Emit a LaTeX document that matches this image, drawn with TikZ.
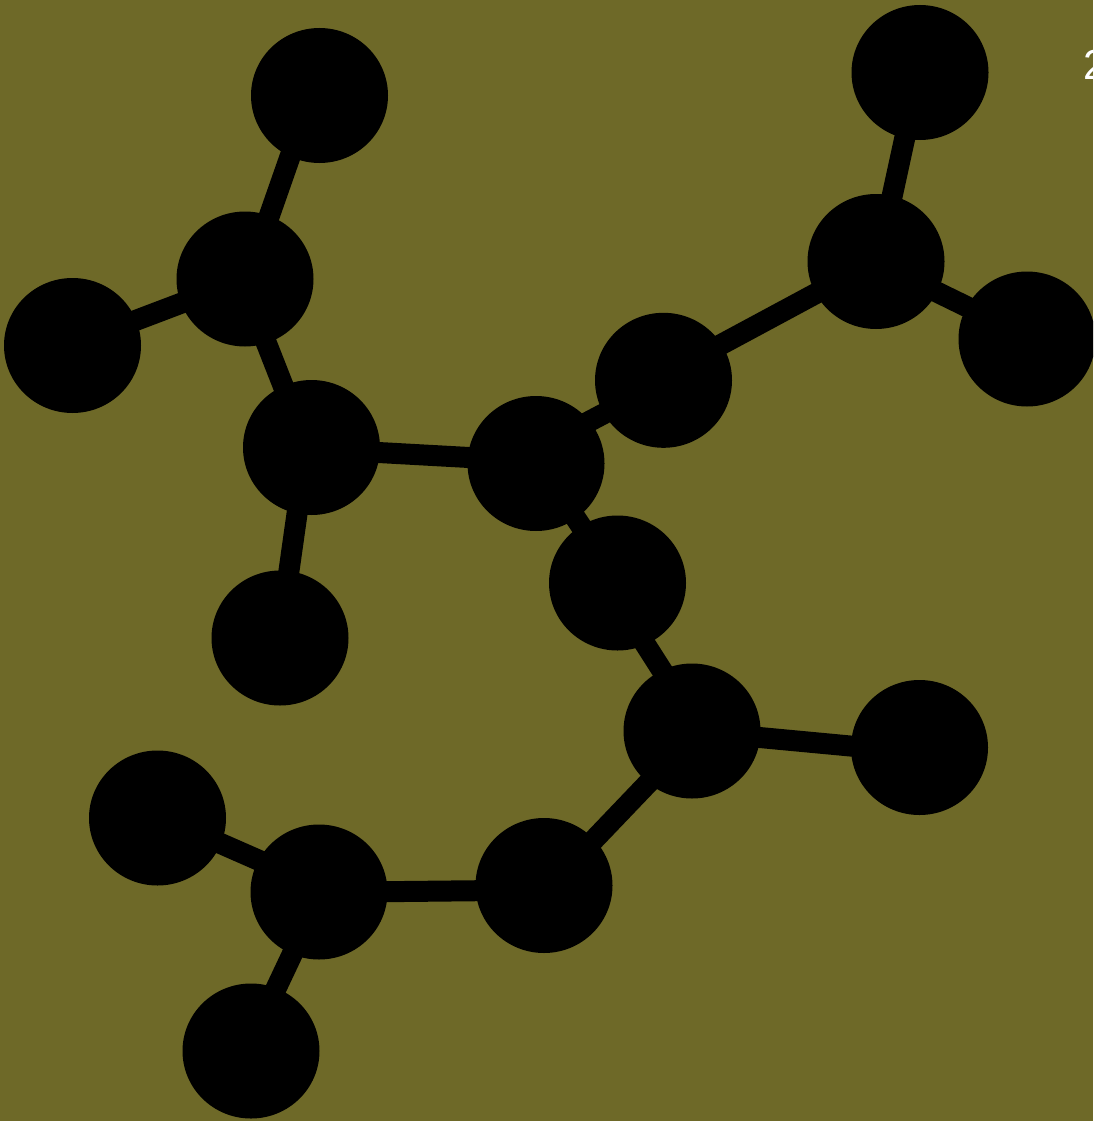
\documentclass[tikz,border=0pt]{standalone}
\usepackage{fontspec}
\usetikzlibrary{shapes.geometric,calc}
\setmainfont{Liberation Sans}
\definecolor{olivebg}{HTML}{6E6928}
\tikzset{
  atom/.style={ellipse,fill=black,draw=none,inner sep=0pt,minimum width=137pt,minimum height=135pt},
  bond/.style={draw=black,line width=21pt},
  tag/.style={text=white,inner sep=0pt,anchor=base west,font=\fontsize{42pt}{42pt}\selectfont}
}
\begin{document}
\begin{tikzpicture}[x=1pt,y=-1pt]
\useasboundingbox (0,0) rectangle (1093,1121);
\clip (0,0) rectangle (1093,1121);
\fill[olivebg] (0,0) rectangle (1093,1121);
\node[atom] (a) at (319.5,95.5) {};
\node[atom] (b) at (245,279) {};
\node[atom] (c) at (72.5,345.5) {};
\node[atom] (d) at (311.5,447.5) {};
\node[atom] (e) at (280,638) {};
\node[atom] (f) at (536,463.5) {};
\node[atom] (g) at (663.5,380.3) {};
\node[atom] (h) at (876,261.5) {};
\node[atom] (i) at (920,72.5) {};
\node[atom] (j) at (1027,339) {};
\node[atom] (k) at (617.5,583) {};
\node[atom] (l) at (692,731) {};
\node[atom] (m) at (919.5,747.5) {};
\node[atom] (n) at (544,885.5) {};
\node[atom] (o) at (319,892) {};
\node[atom] (p) at (157.5,818) {};
\node[atom] (q) at (251,1051) {};
\draw[bond] ($(a)+(-7.9,-0.5)$) -- ($(b)+(2.2,0)$);
\draw[bond] (b.center) -- ($(c)+(0,-1.1)$);
\draw[bond] ($(b)+(-3.8,0)$) -- ($(d)+(-3.9,0.5)$);
\draw[bond] ($(d)+(-5.2,0.5)$) -- ($(e)+(-0.5,0)$);
\draw[bond] ($(d)+(0,1.3)$) -- ($(f)+(0,-2.3)$);
\draw[bond] ($(f)+(0,-14.1)$) -- ($(g)+(0,2)$);
\draw[bond] ($(g)+(0,-4.8)$) -- ($(h)+(0,-0.3)$);
\draw[bond] ($(h)+(1.9,0)$) -- ($(i)+(-1,0)$);
\draw[bond] ($(h)+(0,0.9)$) -- ($(j)+(0,-3)$);
\draw[bond] ($(f)+(3.2,0)$) -- ($(k)+(1.4,0)$);
\draw[bond] ($(k)+(-11.3,0)$) -- ($(l)+(8.6,0)$);
\draw[bond] ($(l)+(0,0.15)$) -- ($(m)+(0,5)$);
\draw[bond] ($(l)+(5.9,0)$) -- ($(n)+(6.2,0)$);
\draw[bond] ($(n)+(0,4.5)$) -- ($(o)+(0,0.4)$);
\draw[bond] ($(o)+(0,-5.3)$) -- ($(p)+(0,-2.2)$);
\draw[bond] ($(o)+(2.6,0)$) -- ($(q)+(-4.5,0)$);
\node[tag] (t) at (1083.5,80) {2};
\end{tikzpicture}
\end{document}
